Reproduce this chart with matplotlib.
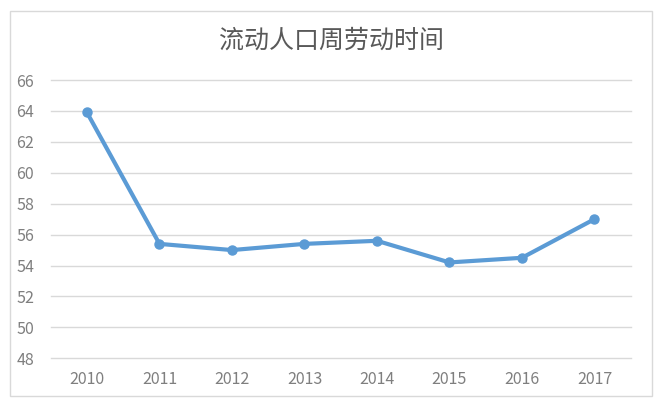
import matplotlib
matplotlib.use("Agg")
import matplotlib.pyplot as plt
from matplotlib.patches import Rectangle

plt.rcParams['font.family'] = ['Noto Sans CJK SC', 'DejaVu Sans']

years = ['2010', '2011', '2012', '2013', '2014', '2015', '2016', '2017']
hours = [63.9, 55.4, 55.0, 55.4, 55.6, 54.2, 54.5, 57.0]
yticks = [48, 50, 52, 54, 56, 58, 60, 62, 64, 66]

fig = plt.figure(figsize=(6.62, 4.07), dpi=100)
ax = fig.add_axes([0.0766, 0.1197, 0.9527 - 0.0766, 0.8034 - 0.1197])

# light frame around the whole chart, like the Excel chart area
fig.patches.append(Rectangle((9.5 / 662, 1 - 396 / 407), (652 - 9.5) / 662, (396 - 10.7) / 407,
                             transform=fig.transFigure, fill=False, edgecolor='#d9d9d9', lw=1.0))

x = range(len(years))
ax.plot(x, hours, color='#5b9bd5', lw=3.0, marker='o', ms=6.5, solid_capstyle='round', zorder=3)

ax.set_xlim(-0.5, len(years) - 0.5)
ax.set_ylim(48, 66)
ax.set_yticks(yticks)
ax.set_xticks(list(x))
ax.set_xticklabels(years)

ax.grid(axis='y', color='#d9d9d9', lw=1.0)
for g in ax.get_ygridlines():
    g.set_clip_on(False)   # keep the 48 / 66 lines whole
ax.set_axisbelow(True)
for s in ax.spines.values():
    s.set_visible(False)
ax.tick_params(axis='both', length=0, labelsize=11.5, colors='#7f7f7f')
ax.tick_params(axis='y', pad=12)
ax.tick_params(axis='x', pad=9)

fig.text(0.5, 1 - 40.5 / 407, '流动人口周劳动时间', ha='center', va='center', fontsize=18, color='#595959')

fig.savefig('out.png', dpi=100)
